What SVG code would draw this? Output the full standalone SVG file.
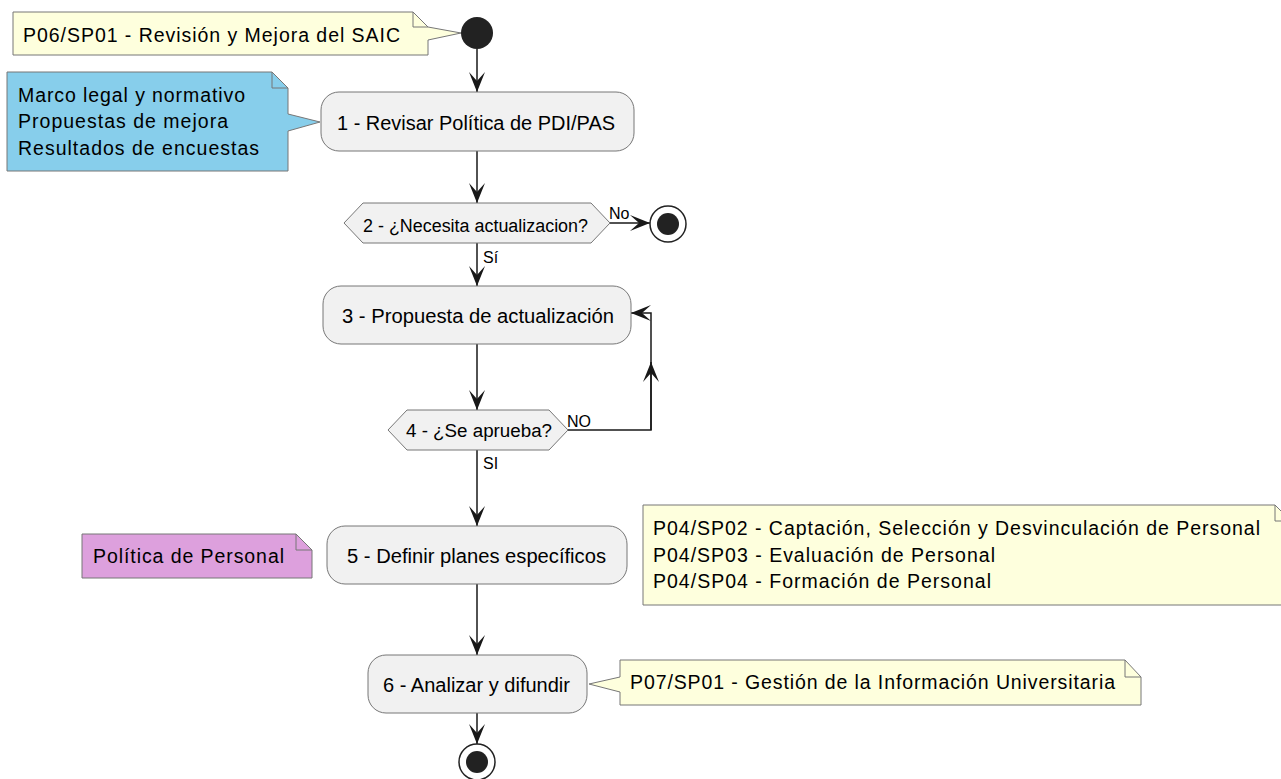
<svg xmlns="http://www.w3.org/2000/svg" width="1281" height="779" viewBox="0 0 1281 779">
<defs>
<style>
text{font-family:"Liberation Sans",Arial,sans-serif;fill:#000}
.act{font-size:20px}
.dec{font-size:18px}
.lbl{font-size:16px}
.nt{font-size:19.5px}
.box{fill:#F1F1F1;stroke:#777;stroke-width:1}
.note{stroke:#777;stroke-width:1}
.fold{fill:none;stroke:#777;stroke-width:1}
.ln{fill:none;stroke:#181818;stroke-width:1.5}
</style>
<marker id="ah" markerUnits="userSpaceOnUse" viewBox="-21 -9 22 18" refX="0" refY="0" markerWidth="22" markerHeight="18" orient="auto" overflow="visible">
<path d="M0,0 L-20,-8 L-11,0 L-20,8 Z" fill="#181818"/>
</marker>
</defs>
<rect width="1281" height="779" fill="#fff"/>

<g id="connectors">
<line class="ln" x1="477" y1="49" x2="477" y2="92" marker-end="url(#ah)"/>
<line class="ln" x1="477" y1="151" x2="477" y2="203" marker-end="url(#ah)"/>
<line class="ln" x1="610" y1="223" x2="650" y2="223" marker-end="url(#ah)"/>
<line class="ln" x1="477" y1="243" x2="477" y2="286" marker-end="url(#ah)"/>
<line class="ln" x1="477" y1="344" x2="477" y2="410" marker-end="url(#ah)"/>
<polyline class="ln" points="568,430 651,430 651,313 631,313" marker-end="url(#ah)"/>
<line class="ln" x1="651" y1="430" x2="651" y2="362" marker-end="url(#ah)"/>
<line class="ln" x1="477" y1="450" x2="477" y2="526" marker-end="url(#ah)"/>
<line class="ln" x1="477" y1="584" x2="477" y2="655" marker-end="url(#ah)"/>
<line class="ln" x1="477" y1="713" x2="477" y2="744" marker-end="url(#ah)"/>
<text class="lbl" x="609" y="219">No</text>
<text class="lbl" x="483" y="263">Sí</text>
<text class="lbl" x="567" y="427">NO</text>
<text class="lbl" x="483" y="469">SI</text>
</g>

<g id="start">
<circle cx="477" cy="33" r="16" fill="#222"/>
</g>

<g id="note-saic">
<path class="note" fill="#FEFFDD" d="M13,12 L413,12 L428,27 L461,33 L428,40 L428,55 L13,55 Z"/>
<path class="fold" d="M413,12 L413,27 L428,27"/>
<text class="nt" x="23" y="41.5" textLength="377" lengthAdjust="spacing">P06/SP01 - Revisión y Mejora del SAIC</text>
</g>

<g id="note-inputs">
<path class="note" fill="#87CEEB" d="M7,72 L272,72 L288,88 L288,114 L320,122 L288,131 L288,171 L7,171 Z"/>
<path class="fold" d="M272,72 L272,88 L288,88"/>
<text class="nt" x="18" y="101.5" textLength="227" lengthAdjust="spacing">Marco legal y normativo</text>
<text class="nt" x="18" y="128" textLength="210" lengthAdjust="spacing">Propuestas de mejora</text>
<text class="nt" x="18" y="155" textLength="241" lengthAdjust="spacing">Resultados de encuestas</text>
</g>

<g id="act1">
<rect class="box" x="321" y="92" width="313" height="59" rx="18"/>
<text class="act" x="337" y="129.5" textLength="278" lengthAdjust="spacingAndGlyphs">1 - Revisar Política de PDI/PAS</text>
</g>

<g id="dec2">
<polygon class="box" points="344,223 363,203 591,203 610,223 591,243 363,243"/>
<text class="dec" x="363" y="232" textLength="225" lengthAdjust="spacingAndGlyphs">2 - ¿Necesita actualizacion?</text>
</g>

<g id="end1">
<circle cx="668" cy="224" r="18" fill="#fff" stroke="#222" stroke-width="1.5"/>
<circle cx="668" cy="224" r="11" fill="#222"/>
</g>

<g id="act3">
<rect class="box" x="323" y="286" width="308" height="58" rx="18"/>
<text class="act" x="342" y="322.5" textLength="272" lengthAdjust="spacingAndGlyphs">3 - Propuesta de actualización</text>
</g>

<g id="dec4">
<polygon class="box" points="388,430 407,410 549,410 568,430 549,450 407,450"/>
<text class="dec" x="406" y="437" textLength="146" lengthAdjust="spacingAndGlyphs">4 - ¿Se aprueba?</text>
</g>

<g id="note-politica">
<path class="note" fill="#DDA0DD" d="M82,534 L296,534 L312,550 L312,578 L82,578 Z"/>
<path class="fold" d="M296,534 L296,550 L312,550"/>
<text class="nt" x="93" y="563" textLength="191" lengthAdjust="spacing">Política de Personal</text>
</g>

<g id="act5">
<rect class="box" x="327" y="526" width="300" height="58" rx="18"/>
<text class="act" x="347" y="562.5" textLength="259" lengthAdjust="spacingAndGlyphs">5 - Definir planes específicos</text>
</g>

<g id="note-p04">
<path class="note" fill="#FEFFDD" d="M643,505 L1275,505 L1291,521 L1291,605 L643,605 Z"/>
<path class="fold" d="M1275,505 L1275,521 L1291,521"/>
<text class="nt" x="653" y="535" textLength="607" lengthAdjust="spacing">P04/SP02 - Captación, Selección y Desvinculación de Personal</text>
<text class="nt" x="653" y="561.5" textLength="342" lengthAdjust="spacing">P04/SP03 - Evaluación de Personal</text>
<text class="nt" x="653" y="588" textLength="338" lengthAdjust="spacing">P04/SP04 - Formación de Personal</text>
</g>

<g id="act6">
<rect class="box" x="368" y="655" width="219" height="58" rx="18"/>
<text class="act" x="383" y="691.5" textLength="187" lengthAdjust="spacingAndGlyphs">6 - Analizar y difundir</text>
</g>

<g id="note-p07">
<path class="note" fill="#FEFFDD" d="M620,660 L1125,660 L1141,677 L1141,705 L620,705 L620,692 L589,684 L620,677 Z"/>
<path class="fold" d="M1125,660 L1125,677 L1141,677"/>
<text class="nt" x="630" y="689" textLength="485" lengthAdjust="spacing">P07/SP01 - Gestión de la Información Universitaria</text>
</g>

<g id="end2">
<circle cx="477" cy="762" r="18" fill="#fff" stroke="#222" stroke-width="1.5"/>
<circle cx="477" cy="762" r="11" fill="#222"/>
</g>
</svg>
